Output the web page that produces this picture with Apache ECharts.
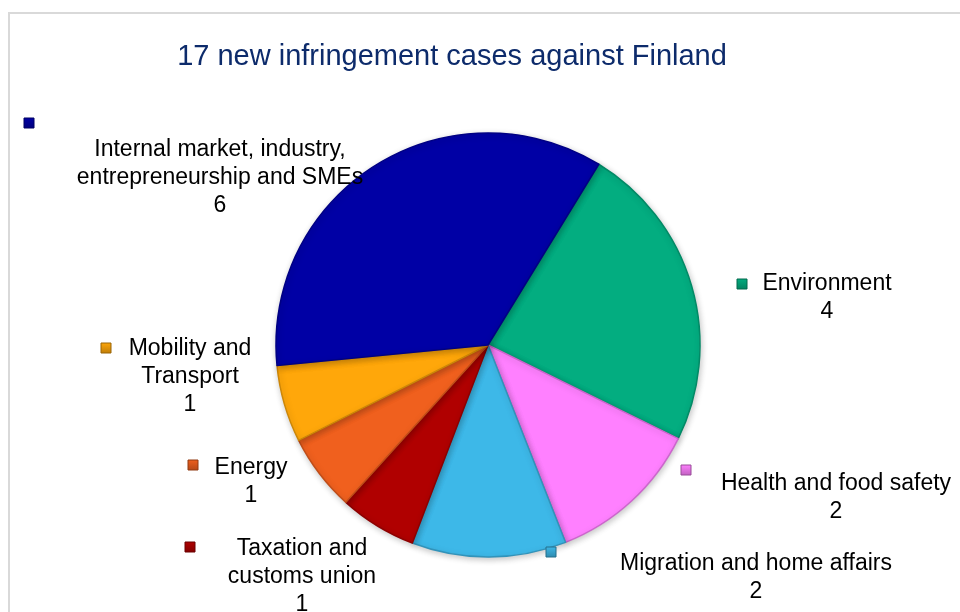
<!DOCTYPE html>
<html>
<head>
<meta charset="utf-8">
<script src="https://cdn.jsdelivr.net/npm/echarts@6/dist/echarts.min.js"></script>
<style>
html,body{margin:0;padding:0;background:#fff;}
#chart{width:960px;height:612px;}
</style>
</head>
<body>
<div id="chart"></div>
<script>
// Data (clockwise from top-right)
const categories = [
  'Environment',
  'Health and food safety',
  'Migration and home affairs',
  'Taxation and\ncustoms union',
  'Energy',
  'Mobility and\nTransport',
  'Internal market, industry,\nentrepreneurship and SMEs'
];
const values = [4, 2, 2, 1, 1, 1, 6];
const colors = ['#03ad80', '#ff80ff', '#3db8e8', '#b00000', '#f0601e', '#ffa70a', '#0000a5'];
const titleText = '17 new infringement cases against Finland';

// Layout (label anchors: center x, top y) and legend-key positions
const labelPos = [
  [827, 270], [836, 470], [756, 550], [302, 535], [251, 454], [190, 335], [220, 136]
];
const keyPos = [
  [737, 279], [681, 465], [546, 547], [185, 542], [188, 460], [101, 343], [24, 118]
];

const FONT = '"Liberation Sans", Arial, sans-serif';
const chart = echarts.init(document.getElementById('chart'), null, {renderer: 'canvas'});

function darken(hex, f) {
  const n = parseInt(hex.slice(1), 16);
  const r = Math.round(((n >> 16) & 255) * f), g = Math.round(((n >> 8) & 255) * f), b = Math.round((n & 255) * f);
  return 'rgb(' + r + ',' + g + ',' + b + ')';
}

const keys = keyPos.map((p, i) => ({
  type: 'rect',
  shape: {x: p[0], y: p[1], width: 10, height: 10},
  style: {
    fill: {type: 'linear', x: 0, y: 0, x2: 0, y2: 1, colorStops: [
      {offset: 0, color: colors[i]}, {offset: 1, color: darken(colors[i], 0.75)}]},
    stroke: darken(colors[i], 0.6), lineWidth: 1
  },
  z: 10
}));

chart.setOption({
  animation: false,
  backgroundColor: '#ffffff',
  title: {
    text: titleText,
    left: 447, top: 37, textAlign: 'center',
    textStyle: {fontFamily: FONT, fontSize: 29, fontWeight: 'normal', color: '#0d2b6b'}
  },
  graphic: [
    {type: 'polyline', shape: {points: [[9, 612], [9, 13], [960, 13]]},
     style: {stroke: '#d9d9d9', lineWidth: 2, fill: null}, z: 0}
  ].concat(keys),
  series: [{
    type: 'pie',
    center: [488, 345],
    radius: 212,
    startAngle: 58.5,
    clockwise: true,
    avoidLabelOverlap: false,
    data: categories.map((c, i) => ({
      name: c, value: values[i],
      itemStyle: {color: colors[i], borderColor: darken(colors[i], 0.8)}
    })),
    itemStyle: {borderWidth: 1.5,
      shadowBlur: 6, shadowColor: 'rgba(0,0,0,0.22)', shadowOffsetX: 1, shadowOffsetY: 2},
    label: {
      show: true,
      formatter: '{b}\n{c}',
      fontFamily: FONT, fontSize: 23, lineHeight: 28, color: '#000', align: 'center'
    },
    labelLine: {show: false},
    labelLayout: function (params) {
      const p = labelPos[params.dataIndex];
      return {x: p[0], y: p[1], align: 'center', verticalAlign: 'top', hideOverlap: false};
    },
    emphasis: {disabled: true}
  }]
});
</script>
</body>
</html>
